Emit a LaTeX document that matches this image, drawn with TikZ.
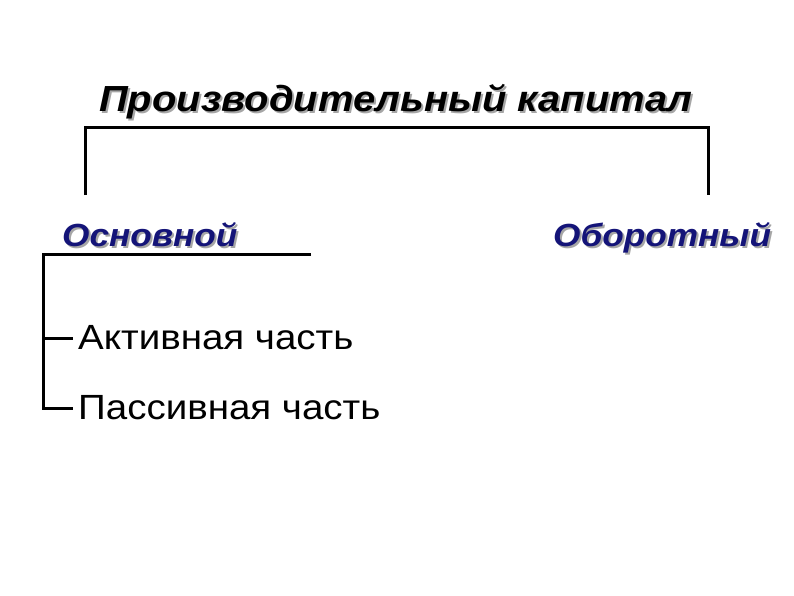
\documentclass[tikz,border=0pt]{standalone}
\usepackage{fontspec}
\setmainfont[FakeStretch=1.1]{Liberation Sans}
\usetikzlibrary{positioning}
\definecolor{navy}{RGB}{20,20,120}
\tikzset
{
    title/.style   = {font=\fontsize{36.3}{44}\selectfont\bfseries\itshape, inner sep=0pt, anchor=base},
    branch/.style  = {font=\fontsize{32}{38}\selectfont\bfseries\itshape, text=navy, inner sep=0pt, anchor=base west},
    shade/.style   = {text=black!35},
    part/.style    = {font=\fontsize{35}{42}\selectfont, inner sep=5pt, anchor=west},
    link/.style    = {line width=3pt}
}

\begin{document}
\begin{tikzpicture}[x=1pt, y=-1pt]
   \useasboundingbox (0,0) rectangle (794,595);

	 % headings with their soft shadow
	 \node (cap s) [title, shade] at (398, 113) {Производительный капитал};
	 \node (cap)   [title]        at (396, 111) {Производительный капитал};
	 \node (osn s) [branch, shade] at (64, 248)  {Основной};
	 \node (osn)   [branch]        at (62, 246)  {Основной};
	 \node (obo s) [branch, shade] at (555, 248) {Оборотный};
	 \node (obo)   [branch]        at (553, 246) {Оборотный};

	 \node (akt) [part] at (73, 338) {Активная часть};
	 \node (pas) [part] at (73, 408) {Пассивная часть};

	 \coordinate (cl) at (85, 195);
	 \coordinate (cr) at (708, 195);
	 \coordinate (ct) at (397, 127);
	 \coordinate (ue) at (311, 254);
	 \coordinate (uc) at (43, 254);

	 \draw[link] (cl) |- (ct) -| (cr);
	 \draw[link] (ue) -- (uc) |- (pas.west);
	 \draw[link] (uc) |- (akt.west);
\end{tikzpicture}
\end{document}
